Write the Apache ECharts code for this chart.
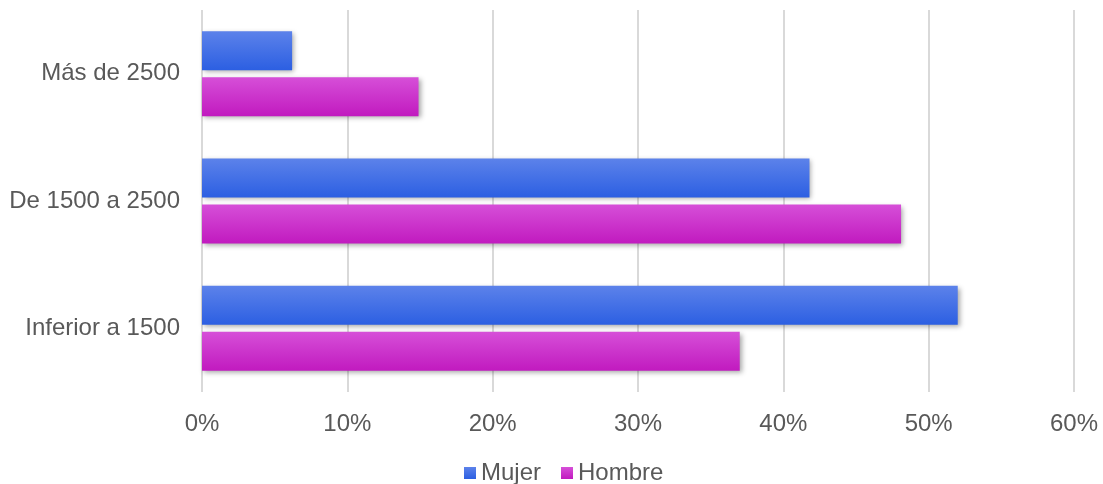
<!DOCTYPE html>
<html>
<head>
<meta charset="utf-8">
<script src="https://cdn.jsdelivr.net/npm/echarts@6/dist/echarts.min.js"></script>
<style>
  html, body { margin: 0; padding: 0; background: #fff; }
  #chart { width: 1103px; height: 484px; }
</style>
</head>
<body>
<div id="chart"></div>
<script>
// categories bottom -> top
var categories = ['Inferior a 1500', 'De 1500 a 2500', 'Más de 2500']
var mujer = [52.0, 41.8, 6.2]
var hombre = [37.0, 48.1, 14.9]
var xTicks = [0, 10, 20, 30, 40, 50, 60]

var FONT = '"Liberation Sans", Arial, sans-serif'

var blue = new echarts.graphic.LinearGradient(0, 0, 0, 1, [
  { offset: 0, color: '#5c82ea' },
  { offset: 1, color: '#2c5fe2' }
])
var magenta = new echarts.graphic.LinearGradient(0, 0, 0, 1, [
  { offset: 0, color: '#d64fd8' },
  { offset: 1, color: '#c11abf' }
])

var chart = echarts.init(document.getElementById('chart'))
chart.setOption({
  animation: false,
  textStyle: { fontFamily: FONT },
  grid: { left: 202, right: 29, top: 10, bottom: 92 },
  legend: {
    top: 456,
    left: 459,
    itemWidth: 12,
    itemHeight: 12,
    itemGap: 20,
    icon: 'rect',
    textStyle: { fontSize: 24, color: '#595959', fontFamily: FONT },
    data: ['Mujer', 'Hombre']
  },
  xAxis: {
    type: 'value',
    min: xTicks[0],
    max: xTicks[xTicks.length - 1],
    interval: 10,
    axisLine: { show: false },
    axisTick: { show: false },
    axisLabel: {
      formatter: '{value}%',
      fontSize: 24,
      fontFamily: FONT,
      color: '#595959',
      margin: 20
    },
    splitLine: { lineStyle: { color: '#d9d9d9', width: 2 } }
  },
  yAxis: {
    type: 'category',
    data: categories,
    axisLine: { show: false },
    axisTick: { show: false },
    axisLabel: { fontSize: 24, fontFamily: FONT, color: '#595959', margin: 22 }
  },
  series: [
    {
      name: 'Mujer',
      type: 'bar',
      data: mujer,
      barWidth: 39,
      barGap: '18%',
      itemStyle: {
        color: blue,
        shadowColor: 'rgba(0,0,0,0.35)',
        shadowBlur: 5,
        shadowOffsetX: 2,
        shadowOffsetY: 2
      }
    },
    {
      name: 'Hombre',
      type: 'bar',
      data: hombre,
      barWidth: 39,
      barGap: '18%',
      itemStyle: {
        color: magenta,
        shadowColor: 'rgba(0,0,0,0.35)',
        shadowBlur: 5,
        shadowOffsetX: 2,
        shadowOffsetY: 2
      }
    }
  ]
})
</script>
</body>
</html>
